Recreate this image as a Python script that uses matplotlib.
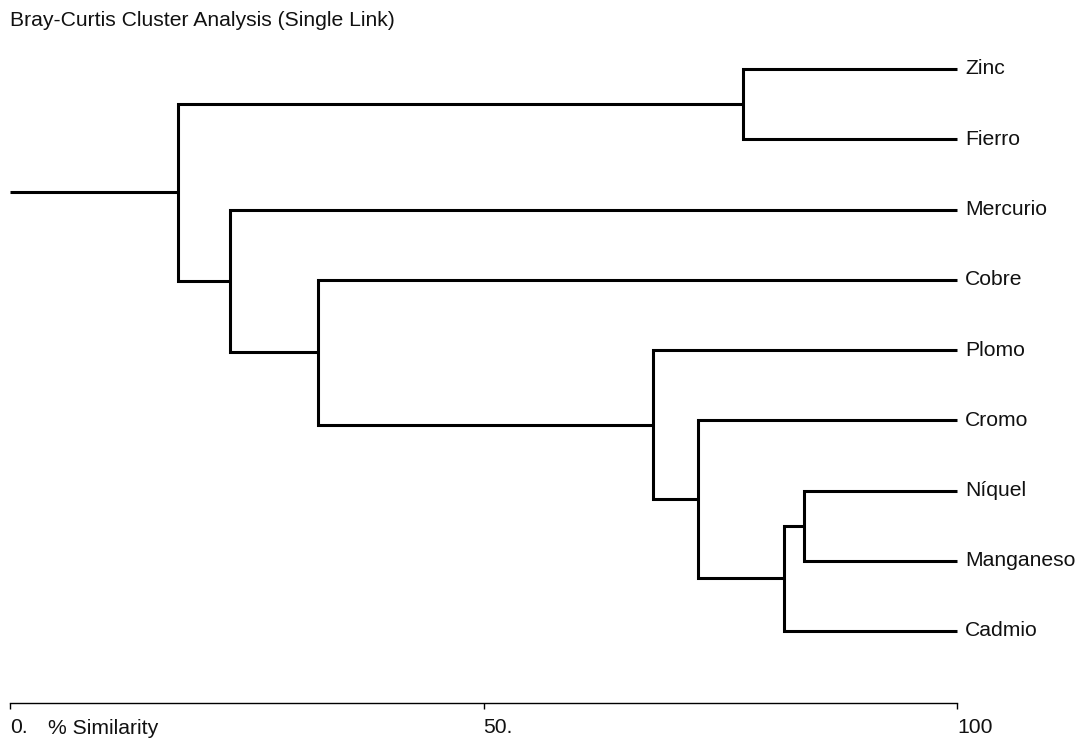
import matplotlib
matplotlib.use("Agg")
import matplotlib.pyplot as plt

# leaves from top to bottom
leaves = ["Zinc", "Fierro", "Mercurio", "Cobre", "Plomo", "Cromo",
          "Níquel", "Manganeso", "Cadmio"]

# merges: (child a, child b, % similarity) -- new cluster ids start at "c1"
merge_a = ["Níquel", "c1", "Cromo", "Plomo", "Cobre", "Mercurio", "Zinc", "c7"]
merge_b = ["Manganeso", "Cadmio", "c2", "c3", "c4", "c5", "Fierro", "c6"]
merge_sim = [83.8, 81.7, 72.6, 67.9, 32.5, 23.2, 77.4, 17.7]

title = "Bray-Curtis Cluster Analysis (Single Link)"
xticks = [0, 50, 100]
xticklabels = ["0.", "50.", "100"]

plt.rcParams['font.family'] = ['Liberation Sans', 'DejaVu Sans']
fs = 15.2

W, H = 1084, 743
fig = plt.figure(figsize=(W / 100, H / 100), dpi=100)
ax = fig.add_axes([0, 0, 1, 1])

# map 0 -> px 10, 100 -> px 957 ; leaf i -> px 69 + 70.25 i
span = 100 * W / 947.0
xmin = -10 * span / W
ax.set_xlim(xmin, xmin + span)
ax.set_ylim((H - 69) / 70.25, -69 / 70.25)

pos = {name: (100.0, float(i)) for i, name in enumerate(leaves)}
lw = 2.2
for k, (a, b, s) in enumerate(zip(merge_a, merge_b, merge_sim)):
    xa, ya = pos[a]
    xb, yb = pos[b]
    ax.plot([xa, s, s, xb], [ya, ya, yb, yb], color="black", lw=lw,
            solid_joinstyle="miter", solid_capstyle="butt")
    pos["c%d" % (k + 1)] = (s, (ya + yb) / 2)

# root stem
xr, yr = pos["c%d" % len(merge_sim)]
ax.plot([0, xr], [yr, yr], color="black", lw=lw, solid_capstyle="butt")

for i, name in enumerate(leaves):
    ax.annotate(name, (100, i), xytext=(8, 0), textcoords="offset pixels",
                ha="left", va="center", fontsize=fs, color="#111111")

# similarity scale
for sp in ["top", "left", "right"]:
    ax.spines[sp].set_visible(False)
ax.spines["bottom"].set_position(("data", (702.7 - 69) / 70.25))
ax.spines["bottom"].set_bounds(0, 100)
ax.spines["bottom"].set_linewidth(1.0)
ax.set_xticks(xticks)
ax.set_xticklabels(xticklabels, ha="left", fontsize=fs, color="#111111")
ax.tick_params(axis="x", direction="out", length=4, width=1.0, pad=7)
ax.set_yticks([])
ax.text(4.0, (728 - 69) / 70.25, "% Similarity", ha="left", va="center",
        fontsize=fs, color="#111111")

fig.text(10 / W, 1 - 20 / H, title, ha="left", va="center",
         fontsize=fs, color="#111111")

fig.savefig("out.png", dpi=100, facecolor="white")
